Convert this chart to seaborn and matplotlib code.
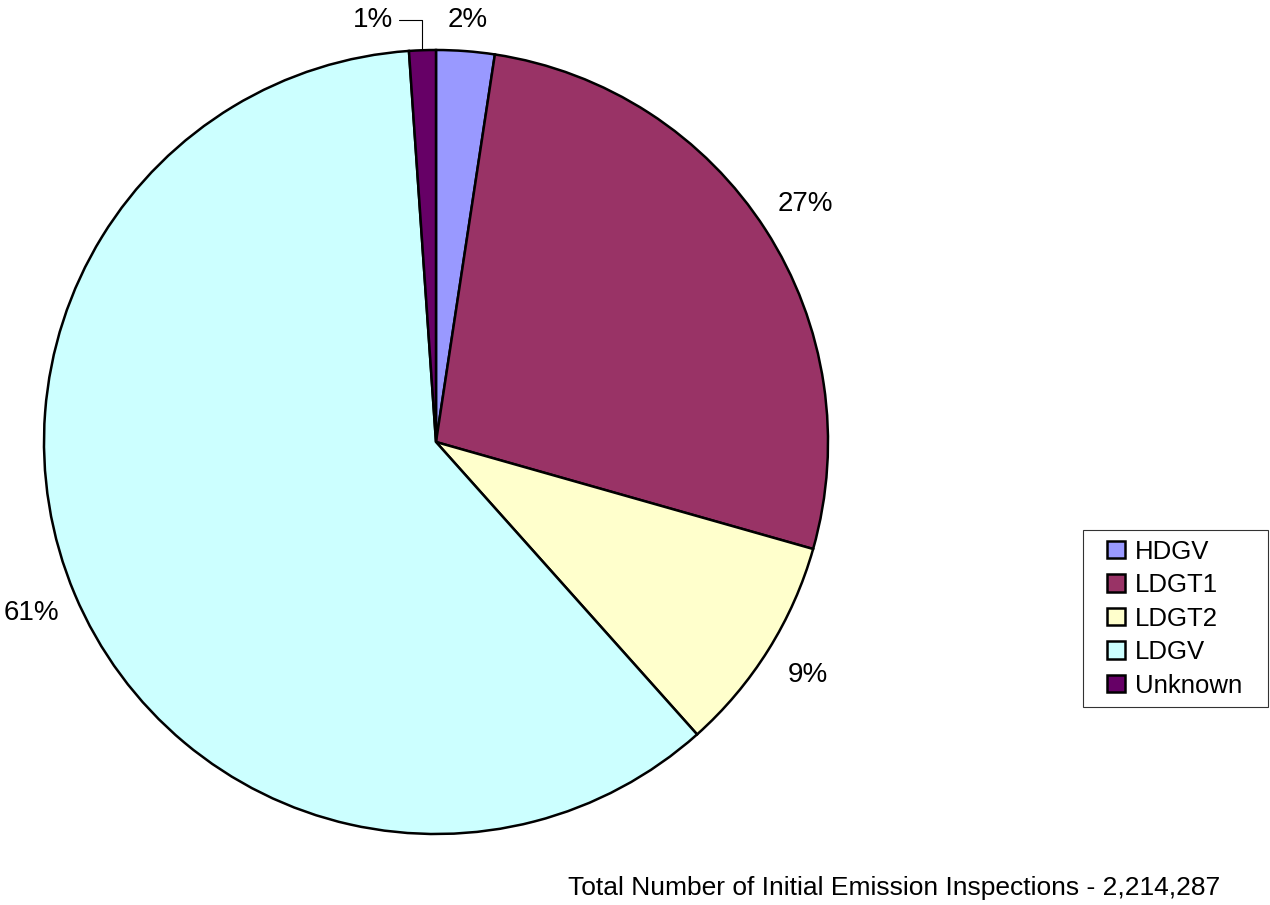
from matplotlib import pyplot as plt
from matplotlib.legend_handler import HandlerPatch
from matplotlib.patches import Rectangle
import seaborn as sns
import numpy as np

categories = ['HDGV', 'LDGT1', 'LDGT2', 'LDGV', 'Unknown']
shares = [2.4, 27.0, 9.0, 60.5, 1.1]
pct_labels = ['2%', '27%', '9%', '61%', '1%']
label_radius = [1.08, 1.12, 1.12, 1.12]
colors = ['#9999FF', '#993366', '#FFFFCC', '#CCFFFF', '#660066']
note = 'Total Number of Initial Emission Inspections - 2,214,287'

sns.set_theme(style='white')
plt.rcParams['font.family'] = ['Liberation Sans', 'DejaVu Sans']
plt.rcParams['text.color'] = 'black'


def square_patch(legend, orig_handle, xdescent, ydescent, width, height, fontsize):
    # square swatch pushed to the right side of the handle box
    return Rectangle((-xdescent + width - height, -ydescent), height, height)


fig = plt.figure(figsize=(12.7, 9.05), dpi=100)
ax = fig.add_axes([44 / 1270, 71 / 905, 784 / 1270, 784 / 905])

wedges, _ = ax.pie(shares, colors=colors, startangle=90, counterclock=False,
                   radius=1, wedgeprops=dict(edgecolor='black', linewidth=1.8))
ax.set_xlim(-1, 1)
ax.set_ylim(-1, 1)
ax.set_aspect('equal')

for w, lab, r in zip(wedges[:4], pct_labels[:4], label_radius):
    mid = np.deg2rad((w.theta1 + w.theta2) / 2)
    ax.text(r * np.cos(mid), r * np.sin(mid), lab, ha='center', va='center',
            fontsize=20, color='black')

# small slice gets a leader line
w = wedges[4]
mid = np.deg2rad((w.theta1 + w.theta2) / 2)
ax.annotate(pct_labels[4], xy=(np.cos(mid), np.sin(mid)), xytext=(-0.11, 1.077),
            ha='right', va='center', fontsize=20, color='black', annotation_clip=False,
            arrowprops=dict(arrowstyle='-', color='black', lw=0.8,
                            connectionstyle='angle,angleA=0,angleB=90,rad=0',
                            shrinkA=2, shrinkB=0))

leg = fig.legend(wedges, categories, loc='upper left', mode='expand',
                 bbox_to_anchor=(1083 / 1270, 203 / 905, 185 / 1270, 172 / 905),
                 fontsize=18.5, frameon=True, fancybox=False, edgecolor='black',
                 handlelength=1.25, handleheight=0.66, handletextpad=0.39,
                 labelspacing=0.37, borderpad=0.37, borderaxespad=0,
                 labelcolor='black',
                 handler_map={p: HandlerPatch(patch_func=square_patch) for p in wedges})
leg.get_frame().set_linewidth(0.8)
for h in leg.legend_handles:
    h.set_linewidth(1.8)

fig.text(1220 / 1270, 1 - 888 / 905, note, ha='right', va='center', fontsize=19,
         color='black')

plt.savefig('out.png', dpi=100)
